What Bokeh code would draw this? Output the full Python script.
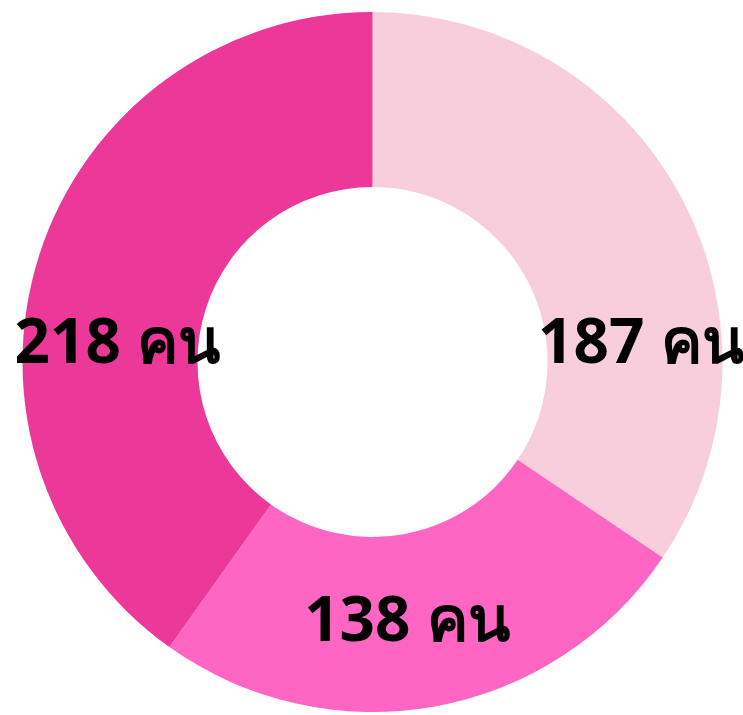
import math
from bokeh.plotting import figure
from bokeh.models import Range1d, ColumnDataSource
from bokeh.core.properties import value
from bokeh.embed import file_html
from bokeh.resources import INLINE

categories = ["A", "B", "C"]
counts = [187, 138, 218]
labels = ["187 คน", "138 คน", "218 คน"]
colors = ["#F8CEDD", "#FF66C4", "#EC3898"]
label_angle_deg = [4.2, -82.4, 175.5]
label_radius = [269, 260, 256]

W, H = 743, 715
cx, cy = 372, H - 361.5
r_out, r_in = 350, 175

total = sum(counts)
starts, ends = [], []
a = math.pi / 2
for c in counts:
    starts.append(a)
    a -= c / total * 2 * math.pi
    ends.append(a)

src = ColumnDataSource(dict(cat=categories, start=starts, end=ends, color=colors))

p = figure(width=W, height=H, output_backend="svg", toolbar_location=None,
           x_range=Range1d(0, W), y_range=Range1d(0, H),
           min_border=0, outline_line_color=None)
p.axis.visible = False
p.grid.visible = False
p.background_fill_color = "white"

p.annular_wedge(x=cx, y=cy, inner_radius=r_in, outer_radius=r_out,
                start_angle="start", end_angle="end", direction="clock",
                color="color", line_color=None, source=src)

lx = [cx + r * math.cos(math.radians(d)) for r, d in zip(label_radius, label_angle_deg)]
ly = [cy + r * math.sin(math.radians(d)) + 3 for r, d in zip(label_radius, label_angle_deg)]
p.text(x=lx, y=ly, text=labels, text_font=value("Noto Sans"), text_font_style="bold",
       text_font_size="62px", text_align="center", text_baseline="alphabetic",
       text_color="black")

open("out.html", "w").write(file_html(p, INLINE))
